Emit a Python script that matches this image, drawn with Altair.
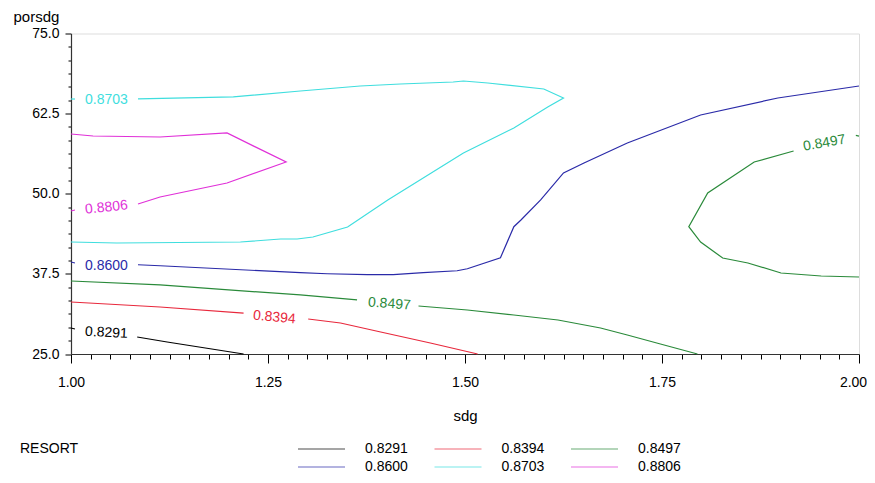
import altair as alt
import pandas as pd

levels = ["0.8291", "0.8394", "0.8497", "0.8600", "0.8703", "0.8806"]
colors = ["#000000", "#e8283c", "#2a8a3a", "#2a2aa8", "#3fdede", "#e030d8"]

# contour polylines (broken where the inline labels sit)
c8291_a_x = [1.000, 1.005]
c8291_a_y = [29.06, 28.90]
c8291_b_x = [1.084, 1.122, 1.219]
c8291_b_y = [27.65, 26.87, 25.00]

c8394_a_x = [1.000, 1.113, 1.219]
c8394_a_y = [33.11, 32.33, 31.39]
c8394_b_x = [1.301, 1.342, 1.393, 1.456, 1.516]
c8394_b_y = [30.46, 29.84, 28.43, 26.72, 25.00]

c8497_a_x = [1.000, 1.113, 1.291, 1.363]
c8497_a_y = [36.39, 35.77, 34.21, 33.43]
c8497_b_x = [1.441, 1.503, 1.562, 1.618, 1.672, 1.706, 1.748, 1.795]
c8497_b_y = [32.49, 31.86, 31.08, 30.30, 29.06, 27.96, 26.56, 25.00]
c8497_c_x = [1.996, 2.000]
c8497_c_y = [59.10, 59.00]
c8497_d_x = [1.917, 1.867, 1.808, 1.784, 1.799, 1.827, 1.859, 1.901, 1.952, 2.000]
c8497_d_y = [56.67, 54.95, 50.12, 44.86, 42.47, 39.98, 39.20, 37.64, 37.17, 37.01]

c8600_a_x = [1.000, 1.005]
c8600_a_y = [39.35, 39.20]
c8600_b_x = [1.085, 1.113, 1.291, 1.325, 1.376, 1.409, 1.447, 1.490, 1.503, 1.545,
             1.562, 1.571, 1.596, 1.625, 1.651, 1.706, 1.799, 1.897, 2.000]
c8600_b_y = [38.92, 38.77, 37.68, 37.52, 37.37, 37.37, 37.68, 37.99, 38.30, 40.02,
             44.86, 45.90, 49.03, 53.24, 54.80, 57.92, 62.29, 64.94, 66.81]

c8703_a_x = [1.000, 1.005]
c8703_a_y = [64.78, 64.78]
c8703_b_x = [1.085, 1.206, 1.291, 1.367, 1.418, 1.485, 1.498, 1.529, 1.600, 1.625,
             1.605, 1.562, 1.498, 1.402, 1.351, 1.307, 1.287, 1.266, 1.215, 1.058, 1.000]
c8703_b_y = [64.80, 65.10, 66.03, 66.81, 67.12, 67.43, 67.59, 67.28, 66.34, 64.94,
             63.53, 60.26, 56.36, 49.03, 44.81, 43.25, 42.94, 42.94, 42.47, 42.32, 42.47]

c8806_a_x = [1.000, 1.028, 1.113, 1.198, 1.273, 1.198, 1.113, 1.085]
c8806_a_y = [59.32, 59.01, 58.85, 59.48, 54.95, 51.68, 49.49, 48.40]
c8806_b_x = [1.005, 1.000]
c8806_b_y = [47.47, 47.31]

segments = [
    ("0.8291", "k1", c8291_a_x, c8291_a_y), ("0.8291", "k2", c8291_b_x, c8291_b_y),
    ("0.8394", "r1", c8394_a_x, c8394_a_y), ("0.8394", "r2", c8394_b_x, c8394_b_y),
    ("0.8497", "g1", c8497_a_x, c8497_a_y), ("0.8497", "g2", c8497_b_x, c8497_b_y),
    ("0.8497", "g3", c8497_c_x, c8497_c_y), ("0.8497", "g4", c8497_d_x, c8497_d_y),
    ("0.8600", "b1", c8600_a_x, c8600_a_y), ("0.8600", "b2", c8600_b_x, c8600_b_y),
    ("0.8703", "c1", c8703_a_x, c8703_a_y), ("0.8703", "c2", c8703_b_x, c8703_b_y),
    ("0.8806", "m1", c8806_a_x, c8806_a_y), ("0.8806", "m2", c8806_b_x, c8806_b_y),
]

# inline contour labels
label_text = ["0.8291", "0.8394", "0.8497", "0.8497", "0.8600", "0.8703", "0.8806"]
label_x = [1.045, 1.258, 1.404, 1.956, 1.045, 1.045, 1.045]
label_y = [28.30, 30.70, 32.80, 57.90, 38.80, 64.70, 47.85]
label_angle = [3, 5, 4, 350, 0, 0, 354]

# legend grid: 3 columns x 2 rows
legend_col = [0, 1, 2, 0, 1, 2]
legend_row = [0, 0, 0, 1, 1, 1]

rows = []
for lvl, seg, xs, ys in segments:
    for i, (xv, yv) in enumerate(zip(xs, ys)):
        rows.append({"level": lvl, "seg": seg, "ord": i, "sdg": xv, "porsdg": yv})
lines_df = pd.DataFrame(rows)
labels_df = pd.DataFrame({"level": label_text, "sdg": label_x, "porsdg": label_y,
                          "angle": label_angle})
legend_df = pd.DataFrame({"level": levels, "col": legend_col, "row": legend_row})

x_ticks = [round(1 + 0.025 * i, 4) for i in range(41)]
y_ticks = [round(25 + 12.5 / 6 * i, 4) for i in range(25)]

FONT = "Liberation Sans"

x_major = "abs(datum.value*4 - round(datum.value*4)) < 0.001"
y_major = "abs(datum.value/12.5 - round(datum.value/12.5)) < 0.001"

x_enc = alt.X(
    "sdg:Q",
    scale=alt.Scale(domain=[1, 2], nice=False, zero=False),
    axis=alt.Axis(
        values=x_ticks, title="sdg", grid=False,
        labelExpr=f"{x_major} ? format(datum.value, '.2f') : ''",
        labelOverlap=False, labelFlush=False,
        labelOffset={"condition": {"test": "datum.value > 1.999", "value": -6}, "value": 0},
        tickSize={"condition": {"test": x_major, "value": 9}, "value": 5},
        tickColor="#000000", domainColor="#333333", domainWidth=1.2,
        labelFont=FONT, labelFontSize=14, labelColor="#000000", labelPadding=12,
        titleFont=FONT, titleFontSize=15, titleFontWeight="normal", titleColor="#000000",
        titleY=66, titleBaseline="alphabetic",
    ),
)
y_enc = alt.Y(
    "porsdg:Q",
    scale=alt.Scale(domain=[25, 75], nice=False, zero=False),
    axis=alt.Axis(
        values=y_ticks, title="porsdg", grid=False,
        labelExpr=f"{y_major} ? format(datum.value, '.1f') : ''",
        labelOverlap=False, labelFlush=False,
        tickSize={"condition": {"test": y_major, "value": 6}, "value": 3},
        tickColor="#000000", domainColor="#333333", domainWidth=1.2,
        labelFont=FONT, labelFontSize=14, labelColor="#000000", labelPadding=6,
        titleFont=FONT, titleFontSize=15, titleFontWeight="normal", titleColor="#000000",
        titleAngle=0, titleAlign="left", titleX=-58, titleY=-17, titleBaseline="middle",
    ),
)

color_scale = alt.Scale(domain=levels, range=colors)
color_enc = alt.Color("level:N", scale=color_scale, legend=None)

lines = alt.Chart(lines_df).mark_line(strokeWidth=1.2).encode(
    x=x_enc, y=y_enc, color=color_enc, detail="seg:N", order="ord:Q",
)

texts = alt.Chart(labels_df).mark_text(font=FONT, fontSize=14).encode(
    x=x_enc, y=y_enc, text="level:N", color=color_enc,
    angle=alt.Angle("angle:Q", scale=None),
)

plot = alt.layer(lines, texts)

# legend drawn below the plot, placed by its own scales
lx = alt.X("col:Q", scale=alt.Scale(domain=[0, 2], range=[250.5, 523.5]), axis=None)
ly = alt.Y("row:Q", scale=alt.Scale(domain=[0, 1], range=[415.5, 433.5]), axis=None)

leg_lines = alt.Chart(legend_df).mark_tick(
    orient="horizontal", size=47, thickness=1.2
).encode(x=lx, y=ly, color=color_enc)

leg_text = alt.Chart(legend_df).mark_text(
    font=FONT, fontSize=14, align="left", baseline="middle", color="#000000", dx=43.5
).encode(x=lx, y=ly, text="level:N")

resort = alt.Chart(pd.DataFrame({"t": ["RESORT"]})).mark_text(
    font=FONT, fontSize=14, align="left", baseline="middle", color="#000000"
).encode(x=alt.value(-51), y=alt.value(415.5), text="t:N")

legend = alt.layer(leg_lines, leg_text, resort)

chart = alt.layer(plot, legend).resolve_scale(
    x="independent", y="independent"
).properties(
    width=788, height=320.5,
    padding={"left": 63, "top": 25.5, "right": 8, "bottom": 120},
    autosize=alt.AutoSizeParams(type="none"),
).configure_view(stroke="#555555", strokeWidth=1.5).configure(background="#ffffff")

chart.save("out.html", embed_options={"renderer": "svg", "actions": False})
